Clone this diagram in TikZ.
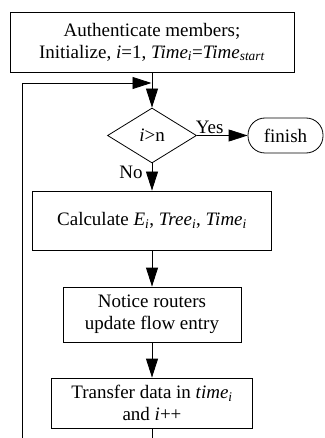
\documentclass[tikz,border=0pt]{standalone}
\usepackage{fontspec}
\setmainfont{Liberation Serif}
\usetikzlibrary{shapes.geometric,arrows.meta}
\begin{document}
\begin{tikzpicture}[x=1pt,y=-1pt,
  every node/.style={font=\fontsize{19}{22}\selectfont, align=center, inner sep=0pt},
  box/.style={draw, line width=0.8pt},
  arr/.style={line width=0.8pt, -{Triangle[length=19pt,width=12pt]}},
  ln/.style={line width=0.8pt}]
\useasboundingbox (0,0) rectangle (324,438);
\node[box, minimum width=284pt, minimum height=60pt] (top) at (152,42)
  {Authenticate members;\\Initialize, \textit{i}=1, \textit{Time}\textsubscript{\textit{i}}=\textit{Time}\textsubscript{\textit{start}}};
\node[box, diamond, minimum width=89pt, minimum height=55pt, shape aspect=1.62] (dia) at (152,135.5) {\textit{i}>n};
\node[box, rounded corners=17pt, minimum width=75pt, minimum height=35pt] (fin) at (285.5,135.5) {finish};
\node[box, minimum width=239pt, minimum height=59pt] (calc) at (152,220.5)
  {Calculate \textit{E}\textsubscript{\textit{i}}, \textit{Tree}\textsubscript{\textit{i}}, \textit{Time}\textsubscript{\textit{i}}};
\node[box, minimum width=178pt, minimum height=55pt] (noti) at (152,314.5)
  {Notice routers\\update flow entry};
\node[box, minimum width=201pt, minimum height=50pt] (tr) at (152,403)
  {Transfer data in \textit{time}\textsubscript{\textit{i}}\\and \textit{i}++};
\coordinate (lb) at (22,440);
\coordinate (lt) at (22,83);
\coordinate (j) at (151.5,83);
\coordinate (bb) at (152,440);
\draw[arr] (top.south) -- (dia.north);
\draw[arr] (lb) -- (lt) -- (j);
\draw[arr] (dia.east) -- node[above=1pt, pos=0.25] (yes) {Yes} (fin.west);
\draw[arr] (dia.south) -- (calc.north);
\node (no) at (131,172) {No};
\draw[arr] (calc.south) -- (noti.north);
\draw[arr] (noti.south) -- (tr.north);
\draw[ln] (tr.south) -- (bb);
\end{tikzpicture}
\end{document}
